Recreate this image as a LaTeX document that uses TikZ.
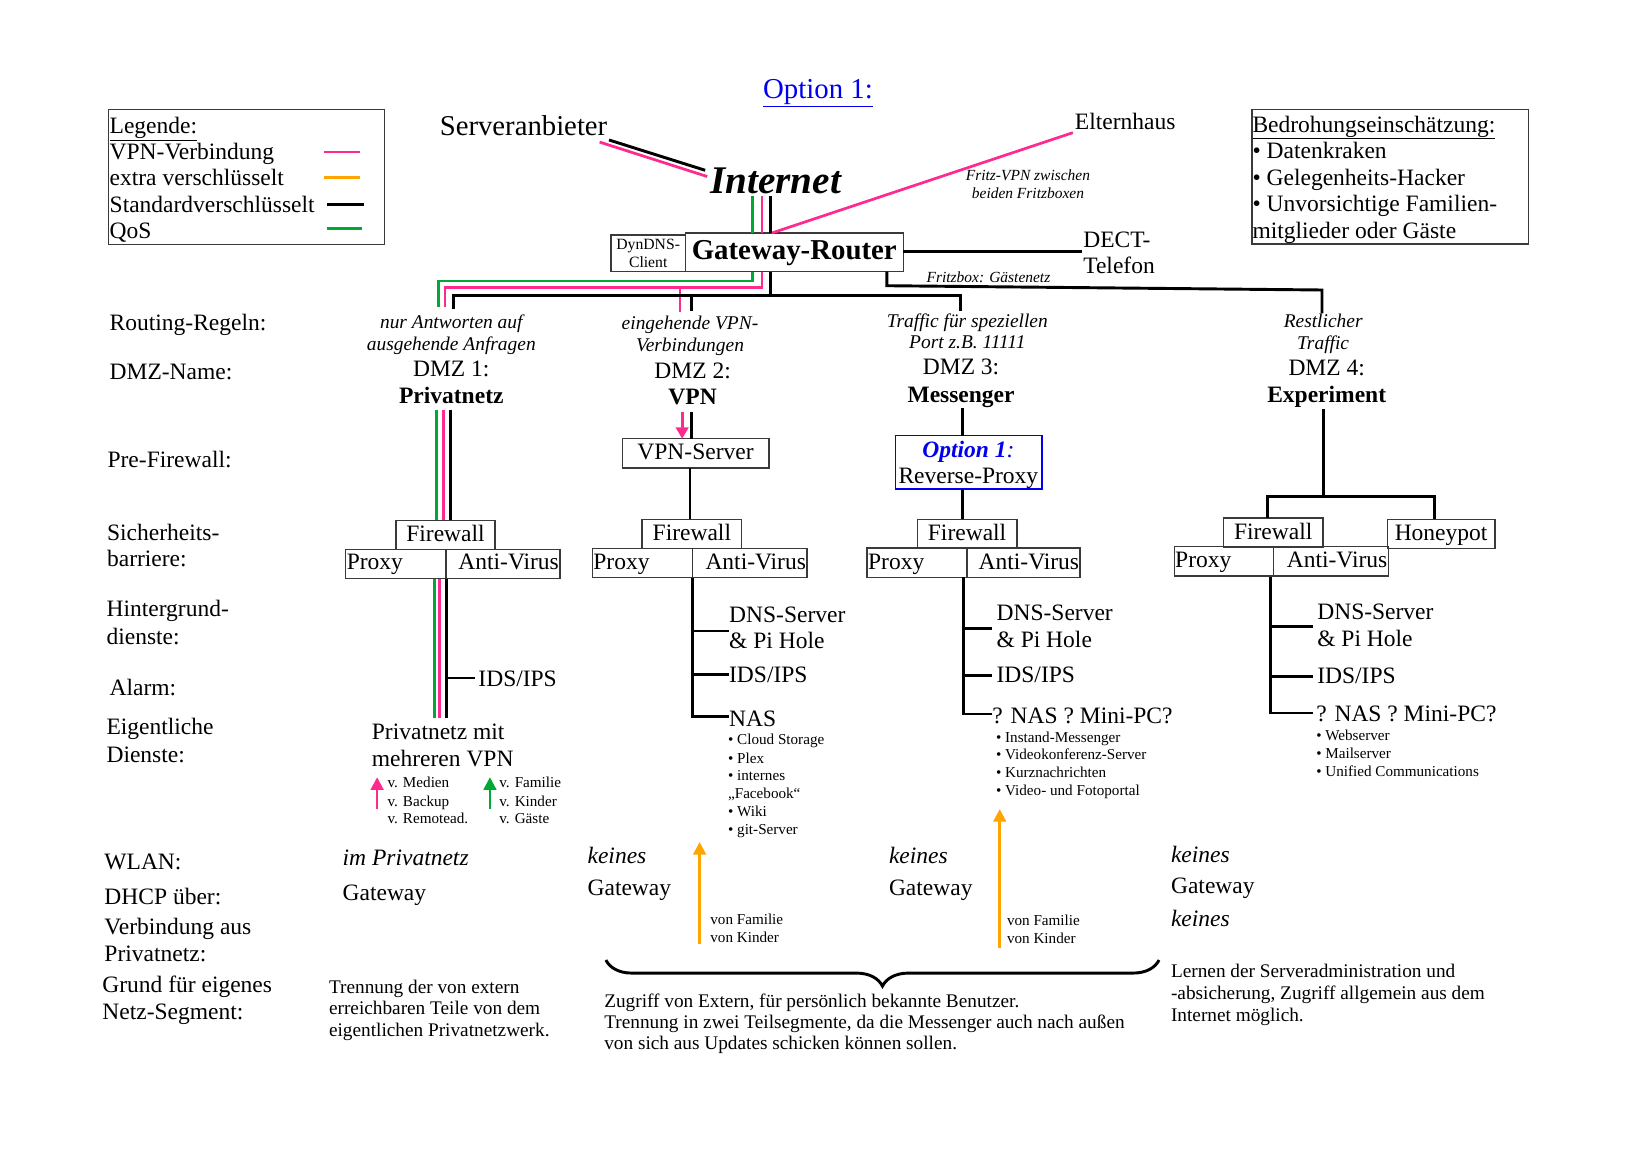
\documentclass[tikz,border=0pt]{standalone}
\usepackage{fontspec}
\setmainfont{Liberation Serif}
\usetikzlibrary{arrows.meta,decorations.pathreplacing}
\definecolor{vpnc}{HTML}{FF2A8D}
\definecolor{qosc}{HTML}{00A933}
\definecolor{encc}{HTML}{FFA500}
\definecolor{optc}{HTML}{0000EE}
\definecolor{bordc}{HTML}{3A3A3A}
\newcommand\fntM{\fontsize{22.5}{25.5}\selectfont}
\newcommand\fntS{\fontsize{14.5}{17}\selectfont}
\newcommand\fntR{\fontsize{18.6}{21}\selectfont\itshape}
\newcommand\fntT{\fontsize{18.45}{20.5}\selectfont}
\newcommand\fntF{\fontsize{14.8}{17}\selectfont\itshape}
\newcommand\fntBig{\fontsize{27.6}{30}\selectfont}
\begin{document}
\begin{tikzpicture}[x=1pt,y=-1pt,
  every node/.style={inner sep=0pt,outer sep=0pt},
  tl/.style={anchor=base west,font=\fntM},
  tr/.style={anchor=base east,font=\fntM},
  tc/.style={anchor=base,font=\fntM},
  tcb/.style={anchor=base,font=\fntM\bfseries},
  itx/.style={anchor=base west,font=\fntM\itshape},
  rl/.style={anchor=base,font=\fntR},
  sm/.style={anchor=base west,font=\fntS},
  ds/.style={anchor=base west,font=\fntT},
  bx/.style={draw=bordc,line width=1.3pt,anchor=north west,font=\fntM,
     text height=16.5pt,text depth=4.5pt,minimum height=28pt},
  frame/.style={draw=bordc,line width=1.3pt,anchor=north west},
  blk/.style={line width=2.8pt,draw=black},
  vpnl/.style={line width=2.6pt,draw=vpnc},
  qosl/.style={line width=2.6pt,draw=qosc},
  encl/.style={line width=2.6pt,draw=encc},
  arrowhd/.style={-{Triangle[length=12pt,width=12pt]}},
]
\fill[white] (0,0) rectangle (1568,1109);
\useasboundingbox (0,0) rectangle (1568,1109);

% ---------- title
\node[anchor=base,font=\fntBig,text=optc] (title) at (783,94.5) {\underline{Option 1:}};

% ---------- legend
\node[frame,minimum width=264pt,minimum height=129pt] (legbox) at (104,105) {};
\node[tl] (lg0) at (105,128) {\underline{Legende:}};
\node[tl] (lg1) at (105,153) {VPN-Verbindung};
\node[tl] (lg2) at (105,178) {extra verschlüsselt};
\node[tl] (lg3) at (105,203.5) {Standardverschlüsselt};
\node[tl] (lg4) at (105,228.5) {QoS};
\coordinate (lpA) at (310,145.5); \coordinate (lpB) at (345,145.5);
\coordinate (loA) at (310,169.8); \coordinate (loB) at (345,169.8);
\coordinate (lbA) at (313,195.6); \coordinate (lbB) at (348,195.6);
\coordinate (lgA) at (313,219);   \coordinate (lgB) at (347,219);
\draw[vpnl] (lpA) -- (lpB);
\draw[encl] (loA) -- (loB);
\draw[blk,line width=2.4pt] (lbA) -- (lbB);
\draw[qosl] (lgA) -- (lgB);

% ---------- threat box
\node[frame,minimum width=264.5pt,minimum height=128.6pt] (thrbox) at (1198.5,105) {};
\node[tl] (th0) at (1199,126.5) {\underline{Bedrohungseinschätzung:}};
\node[tl] (th1) at (1199,151.5) {• Datenkraken};
\node[tl] (th2) at (1199,177.5) {• Gelegenheits-Hacker};
\node[tl] (th3) at (1199,202.5) {• Unvorsichtige Familien-};
\node[tl] (th4) at (1199,228.5) {mitglieder oder Gäste};

% ---------- top
\node[anchor=base west,font=\fontsize{27.5}{30}\selectfont] (srv) at (421,129.5) {Serveranbieter};
\node[anchor=base west,font=\fontsize{37.5}{40}\selectfont\bfseries\itshape] (inet) at (680,185.5) {Internet};
\node[tl] (eltern) at (1029,124) {Elternhaus};
\node[anchor=base,font=\fntF] (fv1) at (984,173) {Fritz-VPN zwischen};
\node[anchor=base,font=\fntF] (fv2) at (984,190) {beiden Fritzboxen};
\node[frame,minimum width=208.6pt,minimum height=37pt,font=\fntBig\bfseries,
      text height=20pt,text depth=6pt] (router) at (656,223) {Gateway-Router};
\node[frame,minimum width=71pt,minimum height=35pt,font=\fontsize{15}{17}\selectfont,
      align=center] (dyndns) at (585,225) {DynDNS-\\Client};
\node[tl] (dect1) at (1037,236.5) {DECT-};
\node[tl] (dect2) at (1037,262) {Telefon};
\node[anchor=base west,font=\fntF] (gast) at (887,270) {Fritzbox: Gästenetz};

\coordinate (srvA) at (583,134); \coordinate (inA) at (675,163);
\coordinate (srvB) at (574,136); \coordinate (inB) at (677,169);
\draw[blk] (srvA) -- (inA);
\draw[vpnl] (srvB) -- (inB);
\coordinate (g0) at (720,188); \coordinate (p0) at (729.5,188); \coordinate (b0) at (738,188);
\draw[qosl] (g0) -- (g0 |- router.north);
\draw[vpnl] (p0) -- (p0 |- router.north);
\draw[blk] (b0) -- (b0 |- router.north);
\coordinate (elA) at (739,223); \coordinate (elB) at (1027,127);
\draw[vpnl] (elA) -- (elB);
\coordinate (dectA) at (1035.5,241);
\draw[blk] (router.east |- dectA) -- (dectA);
\coordinate (gn1) at (849,273.5); \coordinate (gn2) at (1265.5,277.6); \coordinate (gn3) at (1265.5,300);
\draw[blk] (router.south -| gn1) -- (gn1) -- (gn2) -- (gn3);

% trunk
\coordinate (gA) at (720,269); \coordinate (gB) at (419.5,269); \coordinate (gC) at (419.5,294);
\draw[qosl] (router.south -| gA) -- (gA) -- (gB) -- (gC);
\coordinate (pA) at (729.5,275); \coordinate (pB) at (426,275); \coordinate (pC) at (426,294);
\coordinate (pD) at (651,275); \coordinate (pE) at (651,298.6);
\draw[vpnl] (router.south -| pA) -- (pA) -- (pB) -- (pC);
\draw[vpnl] (pD) -- (pE);
\coordinate (bA) at (738,282.5); \coordinate (bB) at (434,282.5); \coordinate (bC) at (434,296);
\coordinate (bD) at (919,282.5); \coordinate (bE) at (919,298);
\coordinate (bF) at (661.6,282.5); \coordinate (bG) at (661.6,298);
\draw[blk] (router.south -| bA) -- (bA) -- (bB) -- (bC);
\draw[blk] (bA) -- (bD) -- (bE);
\draw[blk] (bF) -- (bG);

% ---------- row labels
\node[tl] (lab1) at (105,316) {Routing-Regeln:};
\node[tl] (lab2) at (105,363.5) {DMZ-Name:};
\node[tl] (lab3) at (103,447.5) {Pre-Firewall:};
\node[tl] (lab4a) at (102.5,517.5) {Sicherheits-};
\node[tl] (lab4b) at (102.5,542.5) {barriere:};
\node[tl] (lab5a) at (102,590.5) {Hintergrund-};
\node[tl] (lab5b) at (102,616.5) {dienste:};
\node[tl] (lab6) at (105,665.5) {Alarm:};
\node[tl] (lab7a) at (102,703.5) {Eigentliche};
\node[tl] (lab7b) at (102,729.5) {Dienste:};
\node[tl] (lab8) at (100,832.5) {WLAN:};
\node[tl] (lab9) at (100,865.5) {DHCP über:};
\node[tl] (lab10a) at (100,894.5) {Verbindung aus};
\node[tl] (lab10b) at (100,920.5) {Privatnetz:};
\node[tl] (lab11a) at (98,950.5) {Grund für eigenes};
\node[tl] (lab11b) at (98,976) {Netz-Segment:};

% ---------- DMZ 1
\node[rl] (r1a) at (432,314.5) {nur Antworten auf};
\node[rl] (r1b) at (432,335.5) {ausgehende Anfragen};
\node[tc] (d1a) at (432,360.5) {DMZ 1:};
\node[tcb] (d1b) at (432,386.5) {Privatnetz};
\node[bx,minimum width=95pt] (fw1) at (379,498) {Firewall};
\node[bx,minimum width=96pt] (px1) at (331,526) {};
\node[bx,minimum width=109pt] (av1) at (427,526) {};
\node[tl] (px1t) at (332,545.5) {Proxy};
\node[tr] (av1t) at (535,545.5) {Anti-Virus};
\coordinate (q1a) at (418,392); \coordinate (v1a) at (424.5,392); \coordinate (k1a) at (431,392);
\draw[qosl] (q1a) -- (q1a |- fw1.north);
\draw[vpnl] (v1a) -- (v1a |- fw1.north);
\draw[blk] (k1a) -- (k1a |- fw1.north);
\coordinate (q1b) at (415.6,687); \coordinate (v1b) at (420.5,687); \coordinate (k1b) at (427,687);
\draw[qosl] (q1b |- px1.south) -- (q1b);
\draw[vpnl] (v1b |- px1.south) -- (v1b);
\draw[blk] (k1b |- px1.south) -- (k1b);
\node[tl] (ids1) at (458,657) {IDS/IPS};
\coordinate (i1a) at (427,649); \coordinate (i1b) at (455,649);
\draw[blk] (i1a) -- (i1b);
\node[tl] (pm1) at (356,708) {Privatnetz mit};
\node[tl] (pm2) at (356,733.5) {mehreren VPN};
\coordinate (sa1) at (361,774); \coordinate (sa2) at (361,744);
\coordinate (sg1) at (469,774); \coordinate (sg2) at (469,744);
\draw[vpnl,arrowhd] (sa1) -- (sa2);
\draw[qosl,arrowhd] (sg1) -- (sg2);
\node[sm] (m1) at (371,754) {v. Medien};
\node[sm] (m2) at (371,771.6) {v. Backup};
\node[sm] (m3) at (371,788) {v. Remotead.};
\node[sm] (f1) at (478,754) {v. Familie};
\node[sm] (f2) at (478,771.6) {v. Kinder};
\node[sm] (f3) at (478,788) {v. Gäste};
\node[itx] (w1) at (328,828.5) {im Privatnetz};
\node[tl] (h1) at (328,862) {Gateway};
\node[ds] (e1a) at (315,950.6) {Trennung der von extern};
\node[ds] (e1b) at (315,971.5) {erreichbaren Teile von dem};
\node[ds] (e1c) at (315,992.5) {eigentlichen Privatnetzwerk.};

% ---------- DMZ 2
\node[rl] (r2a) at (660.5,315.5) {eingehende VPN-};
\node[rl] (r2b) at (660.5,336.5) {Verbindungen};
\node[tc] (d2a) at (663,362.5) {DMZ 2:};
\node[tcb] (d2b) at (663,387.5) {VPN};
\node[bx,minimum width=140.4pt] (vpns) at (595.6,420) {VPN-Server};
\coordinate (v2a) at (653,394); \coordinate (k2a) at (662,394);
\draw[vpnl,-{Triangle[length=11pt,width=12pt]}] (v2a) -- (v2a |- vpns.north);
\draw[blk] (k2a) -- (k2a |- vpns.north);
\node[bx,minimum width=95.4pt] (fw2) at (614.6,497) {Firewall};
\coordinate (k2b) at (660.5,448);
\draw[blk] (k2b) -- (k2b |- fw2.north);
\node[bx,minimum width=95.6pt] (px2) at (567,525) {};
\node[bx,minimum width=109.9pt] (av2) at (662.6,525) {};
\node[tl] (px2t) at (568,545) {Proxy};
\node[tr] (av2t) at (771.5,545) {Anti-Virus};
\coordinate (t2a) at (663,553); \coordinate (t2b) at (663,686); \coordinate (t2c) at (698,686);
\coordinate (t2d) at (663,604); \coordinate (t2e) at (698,604);
\coordinate (t2f) at (663,646); \coordinate (t2g) at (698,646);
\draw[blk] (t2a) -- (t2b) -- (t2c);
\draw[blk] (t2d) -- (t2e);
\draw[blk] (t2f) -- (t2g);
\node[tl] (dns2a) at (698,595.5) {DNS-Server};
\node[tl] (dns2b) at (698,621) {\& Pi Hole};
\node[tl] (ids2) at (698,653.5) {IDS/IPS};
\node[tl] (nas2) at (698,695.5) {NAS};
\node[sm] (n2a) at (697,712.5) {• Cloud Storage};
\node[sm] (n2b) at (697,730.5) {• Plex};
\node[sm] (n2c) at (697,747.5) {• internes};
\node[sm] (n2d) at (697,764.5) {„Facebook“};
\node[sm] (n2e) at (697,781.5) {• Wiki};
\node[sm] (n2f) at (697,799) {• git-Server};
\node[itx] (w2) at (562.5,826.5) {keines};
\node[tl] (h2) at (562.5,857.5) {Gateway};
\coordinate (o2a) at (669.7,903.7); \coordinate (o2b) at (669.7,806);
\draw[encl,arrowhd] (o2a) -- (o2b);
\node[sm] (vf2) at (680,885) {von Familie};
\node[sm] (vk2) at (680,902.5) {von Kinder};

% ---------- DMZ 3
\node[rl] (r3a) at (926,313.5) {Traffic für speziellen};
\node[rl] (r3b) at (926,334) {Port z.B. 11111};
\node[tc] (d3a) at (920,358.5) {DMZ 3:};
\node[tcb] (d3b) at (920,385) {Messenger};
\node[draw=optc,line width=1.3pt,anchor=north west,minimum width=140.6pt,minimum height=51pt] (optbox) at (857,417) {};
\node[anchor=base,font=\fntM\bfseries\itshape,text=optc] (opt1) at (927,437.5) {Option 1\mdseries:};
\node[tc] (opt2) at (927,462.5) {Reverse-Proxy};
\coordinate (k3a) at (921,391);
\draw[blk] (k3a) -- (k3a |- optbox.north);
\node[bx,minimum width=95.5pt] (fw3) at (878,497) {Firewall};
\draw[blk] (optbox.south -| k3a) -- (fw3.north -| k3a);
\node[bx,minimum width=95.6pt] (px3) at (830,524.7) {};
\node[bx,minimum width=108.4pt] (av3) at (925.6,524.7) {};
\node[tl] (px3t) at (831,545) {Proxy};
\node[tr] (av3t) at (1033,545) {Anti-Virus};
\coordinate (t3a) at (922,552.7); \coordinate (t3b) at (922,683.5); \coordinate (t3c) at (949.6,683.5);
\coordinate (t3d) at (922,601.5); \coordinate (t3e) at (949.6,601.5);
\coordinate (t3f) at (922,647); \coordinate (t3g) at (949.6,647);
\draw[blk] (t3a) -- (t3b) -- (t3c);
\draw[blk] (t3d) -- (t3e);
\draw[blk] (t3f) -- (t3g);
\node[tl] (dns3a) at (954,594) {DNS-Server};
\node[tl] (dns3b) at (954,619.5) {\& Pi Hole};
\node[tl] (ids3) at (954,653) {IDS/IPS};
\node[tl] (nas3) at (950,692.5) {? NAS ? Mini-PC?};
\node[sm] (n3a) at (953.5,710.5) {• Instand-Messenger};
\node[sm] (n3b) at (953.5,727.5) {• Videokonferenz-Server};
\node[sm] (n3c) at (953.5,744) {• Kurznachrichten};
\node[sm] (n3d) at (953.5,761.5) {• Video- und Fotoportal};
\node[itx] (w3) at (851,827) {keines};
\node[tl] (h3) at (851,857.5) {Gateway};
\coordinate (o3a) at (957,907.6); \coordinate (o3b) at (957,774.5);
\draw[encl,arrowhd] (o3a) -- (o3b);
\node[sm] (vf3) at (964,886) {von Familie};
\node[sm] (vk3) at (964,903.5) {von Kinder};

% ---------- DMZ 4
\node[rl] (r4a) at (1266.6,313.5) {Restlicher};
\node[rl] (r4b) at (1266.6,334.5) {Traffic};
\node[tc] (d4a) at (1270,359.5) {DMZ 4:};
\node[tcb] (d4b) at (1270,385) {Experiment};
\node[bx,minimum width=95.6pt] (fw4) at (1171,496) {Firewall};
\node[bx,minimum width=103pt] (hp) at (1328,497) {Honeypot};
\node[bx,minimum width=95pt] (px4) at (1124,523.4) {};
\node[bx,minimum width=110pt] (av4) at (1219,523.4) {};
\node[tl] (px4t) at (1125,543.5) {Proxy};
\node[tr] (av4t) at (1328,543.5) {Anti-Virus};
\coordinate (k4a) at (1266.5,391.6); \coordinate (k4b) at (1266.5,475.6);
\coordinate (k4c) at (1213,475.6); \coordinate (k4d) at (1373,475.6);
\draw[blk] (k4a) -- (k4b);
\draw[blk] (k4c |- fw4.north) -- (k4c) -- (k4d) -- (k4d |- hp.north);
\coordinate (t4a) at (1216,552); \coordinate (t4b) at (1216,682.5); \coordinate (t4c) at (1257,682.5);
\coordinate (t4d) at (1216,599.5); \coordinate (t4e) at (1257,599.5);
\coordinate (t4f) at (1216,648); \coordinate (t4g) at (1257,648);
\draw[blk] (t4a) -- (t4b) -- (t4c);
\draw[blk] (t4d) -- (t4e);
\draw[blk] (t4f) -- (t4g);
\node[tl] (dns4a) at (1261,593.2) {DNS-Server};
\node[tl] (dns4b) at (1261,619) {\& Pi Hole};
\node[tl] (ids4) at (1261,654.5) {IDS/IPS};
\node[tl] (nas4) at (1260,690.5) {? NAS ? Mini-PC?};
\node[sm] (n4a) at (1260,709) {• Webserver};
\node[sm] (n4b) at (1260,726.2) {• Mailserver};
\node[sm] (n4c) at (1260,743.5) {• Unified Communications};
\node[itx] (w4) at (1121,826) {keines};
\node[tl] (h4) at (1121,855.5) {Gateway};
\node[itx] (c4) at (1121,886.5) {keines};
\node[ds] (e4a) at (1121,936) {Lernen der Serveradministration und};
\node[ds] (e4b) at (1121,956.5) {-absicherung, Zugriff allgemein aus dem};
\node[ds] (e4c) at (1121,977.5) {Internet möglich.};

% ---------- brace
\coordinate (brA) at (580,919); \coordinate (brB) at (1109.5,919);
\draw[line width=2.8pt,decorate,decoration={brace,amplitude=25pt,mirror}] (brA) -- (brB);
\node[ds] (e2a) at (578.5,964.5) {Zugriff von Extern, für persönlich bekannte Benutzer.};
\node[ds] (e2b) at (578.5,984.5) {Trennung in zwei Teilsegmente, da die Messenger auch nach außen};
\node[ds] (e2c) at (578.5,1004.5) {von sich aus Updates schicken können sollen.};
\end{tikzpicture}
\end{document}
